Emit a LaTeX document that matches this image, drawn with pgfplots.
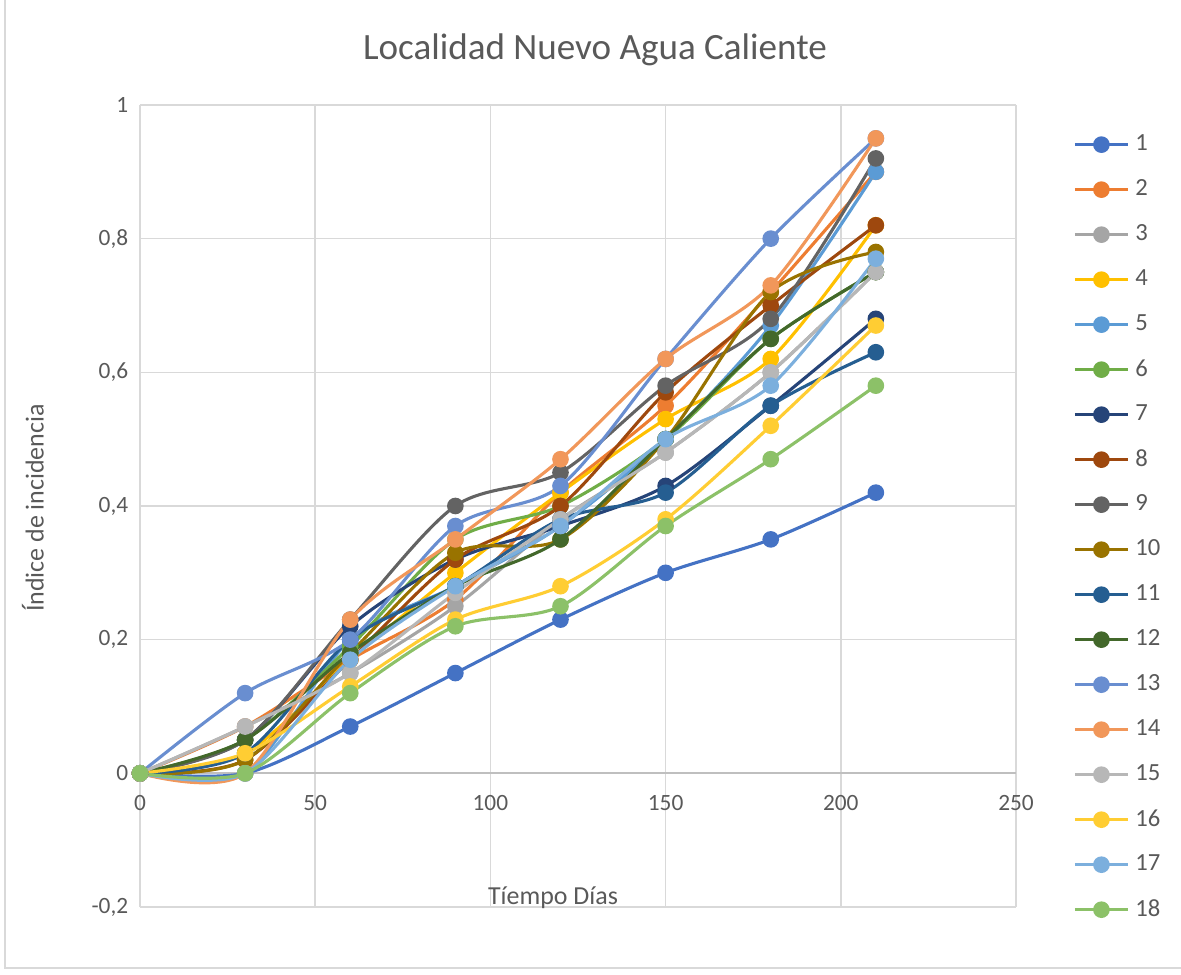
\documentclass[border=0pt]{standalone}
\usepackage{fontspec}
\setmainfont{Carlito}
\usepackage{pgfplots}
\usepackage{pgfplotstable}
\pgfplotsset{compat=1.18}
\definecolor{c1}{HTML}{4472C4}
\definecolor{c2}{HTML}{ED7D31}
\definecolor{c3}{HTML}{A5A5A5}
\definecolor{c4}{HTML}{FFC000}
\definecolor{c5}{HTML}{5B9BD5}
\definecolor{c6}{HTML}{70AD47}
\definecolor{c7}{HTML}{264478}
\definecolor{c8}{HTML}{9E480E}
\definecolor{c9}{HTML}{636363}
\definecolor{c10}{HTML}{997300}
\definecolor{c11}{HTML}{255E91}
\definecolor{c12}{HTML}{43682B}
\definecolor{c13}{HTML}{698ED0}
\definecolor{c14}{HTML}{F1975A}
\definecolor{c15}{HTML}{B7B7B7}
\definecolor{c16}{HTML}{FFCD33}
\definecolor{c17}{HTML}{7CAFDD}
\definecolor{c18}{HTML}{8CC168}
\definecolor{gridc}{HTML}{D9D9D9}
\definecolor{axisc}{HTML}{BFBFBF}
\definecolor{txt}{HTML}{595959}
\pgfplotstableread{
x   s1   s2   s3   s4   s5   s6   s7   s8   s9   s10  s11  s12  s13  s14  s15  s16  s17  s18
0   0    0    0    0    0    0    0    0    0    0    0    0    0    0    0    0    0    0
30  0    0.07 0.07 0.03 0    0.05 0.05 0.02 0.05 0.02 0.03 0.05 0.12 0    0.07 0.03 0    0
60  0.07 0.17 0.15 0.17 0.20 0.19 0.22 0.17 0.23 0.18 0.20 0.18 0.20 0.23 0.15 0.13 0.17 0.12
90  0.15 0.26 0.25 0.30 0.28 0.35 0.32 0.32 0.40 0.33 0.28 0.28 0.37 0.35 0.27 0.23 0.28 0.22
120 0.23 0.42 0.38 0.42 0.37 0.40 0.37 0.40 0.45 0.35 0.38 0.35 0.43 0.47 0.38 0.28 0.37 0.25
150 0.30 0.55 0.48 0.53 0.50 0.50 0.43 0.57 0.58 0.50 0.42 0.50 0.62 0.62 0.48 0.38 0.50 0.37
180 0.35 0.72 0.60 0.62 0.67 0.65 0.55 0.70 0.68 0.72 0.55 0.65 0.80 0.73 0.60 0.52 0.58 0.47
210 0.42 0.90 0.75 0.82 0.90 0.75 0.68 0.82 0.92 0.78 0.63 0.75 0.95 0.95 0.75 0.67 0.77 0.58
}\data
\begin{document}
\begin{tikzpicture}
\path[use as bounding box] (0,0) rectangle (16cm,13.1956cm);
\draw[gridc, line width=0.6pt] (0.07cm,13.1956cm) -- (0.07cm,0.08cm) -- (16cm,0.08cm);
\begin{axis}[
  at={(1.8967cm,0.9077cm)}, anchor=south west,
  scale only axis, width=11.868cm, height=10.866cm,
  xmin=0, xmax=250, ymin=-0.2, ymax=1,
  xtick={0,50,100,150,200,250},
  ytick={-0.2,0,0.2,0.4,0.6,0.8,1},
  axis x line=middle, axis y line=left,
  x axis line style={-, draw=axisc, line width=0.7pt},
  y axis line style={-, draw=gridc, line width=0.6pt},
  hide obscured x ticks=false, hide obscured y ticks=false,
  grid=major, major grid style={draw=gridc, line width=0.6pt},
  major tick length=0pt,
  /pgf/number format/assume math mode=true,
  tick label style={font=\fontsize{9}{11}\selectfont, text=txt},
  y tick label style={/pgf/number format/use comma, /pgf/number format/fixed, /pgf/number format/precision=1, xshift=-1pt},
  x tick label style={yshift=-5pt},
  legend style={draw=none, fill=none, at={(1.0560,0.9857)}, anchor=north west,
    font=\fontsize{9.5}{11}\selectfont, text=txt, row sep=0pt, column sep=0.08cm,
    nodes={minimum height=0.6097cm, inner sep=0pt}},
  legend cell align=left,
  legend image code/.code={\draw[mark repeat=2,mark phase=2,#1] plot coordinates {(0cm,0cm) (0.359cm,0cm) (0.718cm,0cm)};},
]
\pgfplotsinvokeforeach{1,...,18}{
  \addplot[smooth, color=c#1, line width=1.2pt, mark=*, mark size=2.6pt, mark options={solid, fill=c#1}] table[x=x, y=s#1]{\data};
  \addlegendentry{#1}
}
\end{axis}
\node[text=txt, font=\fontsize{14.3}{17}\selectfont] at (8.061cm,12.518cm) {Localidad Nuevo Agua Caliente};
\node[text=txt, font=\fontsize{10}{12}\selectfont] at (7.492cm,1.030cm) {Tíempo Días};
\node[text=txt, font=\fontsize{10}{12}\selectfont, rotate=90] at (0.447cm,6.313cm) {Índice de incidencia};
\end{tikzpicture}
\end{document}
